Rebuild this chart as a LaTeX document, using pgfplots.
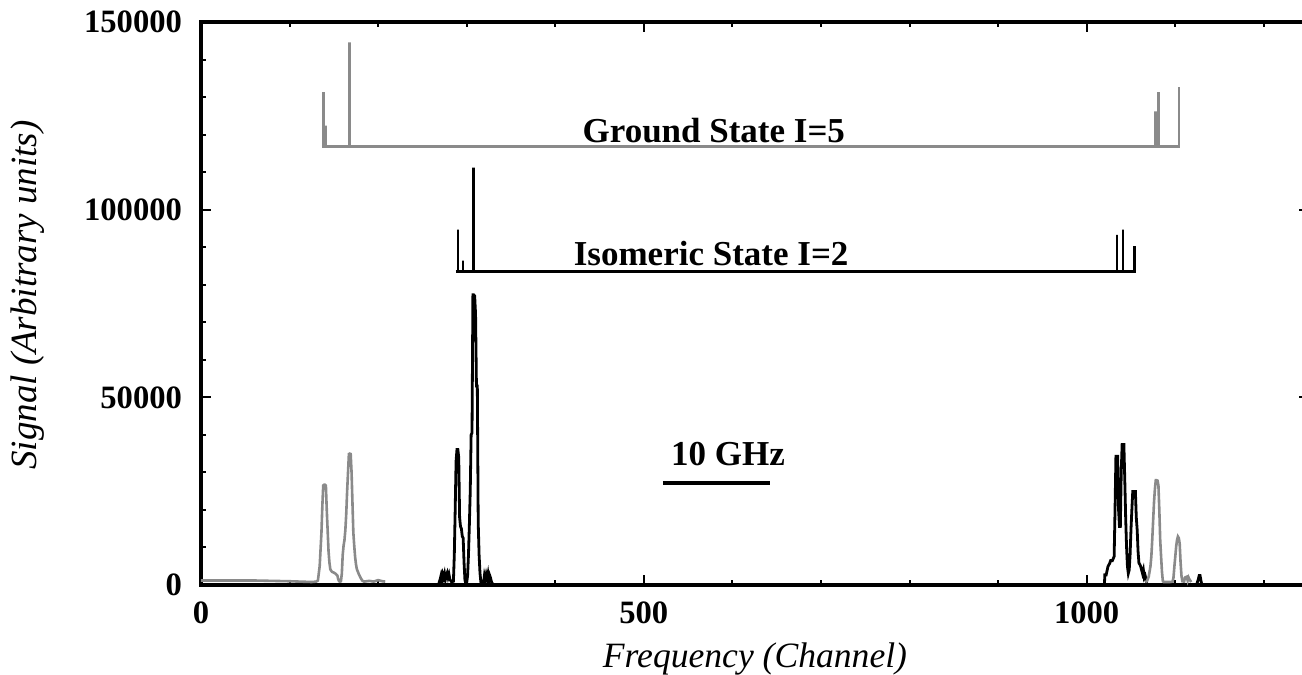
\documentclass[border=0pt]{standalone}
\usepackage{fontspec}
\setmainfont{Liberation Serif}
\usepackage{pgfplots}
\pgfplotsset{compat=1.18}
\definecolor{specgray}{RGB}{138,138,138}
\begin{document}
\begin{tikzpicture}
\path[use as bounding box] (-100.5pt,-45pt) rectangle (550.5pt,292.5pt);
\begin{axis}[
  at={(0,0)}, anchor=south west,
  scale only axis, width=554pt, height=281.5pt,
  xmin=0, xmax=1251, ymin=0, ymax=150000,
  axis line style={line width=2.3pt},
  xtick={0,500,1000}, minor xtick={100,200,300,400,600,700,800,900,1100,1200},
  ytick={0,50000,100000,150000},
  minor ytick={10000,20000,30000,40000,60000,70000,80000,90000,110000,120000,130000,140000},
  tick align=inside, major tick length=5pt, minor tick length=2.5pt,
  every tick/.style={line width=1pt, black},
  scaled y ticks=false, scaled x ticks=false,
  /pgf/number format/fixed, /pgf/number format/precision=0,
  /pgf/number format/assume math mode=true,
  /pgf/number format/1000 sep={},
  yticklabel style={font=\fontsize{16.3}{18}\selectfont\bfseries, xshift=-6pt},
  xticklabel style={font=\fontsize{16.3}{18}\selectfont\bfseries, yshift=-5pt},
  xlabel={Frequency (Channel)},
  ylabel={Signal (Arbitrary units)},
  x label style={font=\fontsize{17.8}{22}\selectfont\itshape, at={(axis description cs:0.5,-0.1465)}, anchor=base},
  y label style={font=\fontsize{18.5}{22}\selectfont\itshape, at={(axis description cs:-0.1488,0.515)}, anchor=base},
]
% black spectrum (isomeric)
\addplot[black, line width=1.4pt, sharp plot] coordinates {
(266,0)(268,0)(270,1500)(271,2500)(272,1200)(273,2800)(274,2000)(275,3000)(276,1500)(277,2500)(278,3200)(279,2000)(280,2800)(281,1500)(283,800)(285,1000)
(286,8000)(287,20000)(288,33000)(289,36100)(290,36100)(291,34000)(292,18000)(293,15600)(294,15000)(295,13000)(296,12500)(297,6000)(298,1300)(299,500)
(300,600)(301,2500)(302,8000)(303,16000)(304,25000)(305,40000)(306,40500)(307,77300)(308,77300)(309,77000)(310,72200)(311,53000)(312,53000)
(313,16500)(314,8000)(315,3200)(316,800)(317,200)(319,500)(320,2500)(321,1500)(322,2800)(323,1800)(324,3000)(325,1200)(326,2500)(327,1800)(328,800)(330,0)
};
\addplot[black, line width=1.4pt, sharp plot] coordinates {
(1018,0)(1020,0)(1020.5,2700)(1022,2700)(1024,4900)(1026,5800)(1027,6500)(1029,6500)(1031,7600)(1032,20000)(1033,34300)(1034,34300)(1035,34300)
(1036,20000)(1037,15600)(1038,15600)(1039,30000)(1040,37400)(1041,37400)(1042,37400)(1043,28100)(1044,18000)(1045,10200)(1046,5000)(1047,3100)
(1048,4000)(1049,8000)(1050,14700)(1051,20000)(1052,24900)(1053,24900)(1054,24900)(1055,24900)(1056,18000)(1057,14700)(1058,9000)(1059,5800)
(1060,5500)(1061,4900)(1062,4000)(1063,3100)(1064,4000)(1065,2000)(1066,2500)(1067,1500)(1068,0)
};
\addplot[black, line width=1.4pt, sharp plot] coordinates {
(1124,0)(1126,1500)(1127,2500)(1128,2500)(1129,1200)(1130,0)
};
% gray spectrum (ground)
\addplot[specgray, line width=1.3pt, sharp plot] coordinates {
(0,1200)(60,1200)(100,1000)(125,800)(130,900)(132,1200)(134,5000)(136,14000)(137,21000)(138,26500)(139,26700)(140,26700)(141,26500)
(142,20000)(143,14500)(144,9000)(145,6000)(146,4200)(147,3800)(148,3500)(150,3300)(152,3000)(154,2500)(155,1500)(156,1000)(157,900)
(158,1000)(159,3000)(160,8000)(161,10500)(162,12000)(163,14700)(164,19000)(165,25000)(166,30000)(167,34900)(168,35000)(169,34900)
(170,30000)(171,22000)(172,14000)(173,10500)(174,7500)(175,5500)(176,4200)(178,3000)(180,2000)(182,1200)(184,900)(190,1100)(195,900)
(200,1300)(205,1000)(208,900)
};
\addplot[specgray, line width=1.3pt, sharp plot] coordinates {
(1066,800)(1068,1000)(1070,2200)(1072,5000)(1073,7600)(1074,12000)(1075,17000)(1076,22000)(1077,25500)(1078,27900)(1079,27900)(1080,27800)
(1081,26500)(1082,20000)(1083,12000)(1084,7600)(1085,3500)(1086,1000)(1087,800)(1090,800)(1094,800)(1097,900)(1098,2000)(1099,4900)
(1100,7500)(1101,10200)(1102,12000)(1103,12900)(1104,12500)(1105,11000)(1106,6000)(1107,2500)(1108,1000)(1110,900)(1111,2000)(1113,2200)
(1114,1200)(1115,2000)(1116,1500)(1118,800)
};
% ground state stick diagram
\addplot[specgray, line width=1.3pt, sharp plot] coordinates {
(136.6,116800)(138,116800)(138,131300)(138,116800)(141,116800)(141,122400)(141,116800)(168,116800)(168,144600)(168,116800)
(1078,116800)(1078,126200)(1078,116800)(1081,116800)(1081,131300)(1081,116800)(1104,116800)(1104,132600)
};
% isomeric state stick diagram
\addplot[black, line width=1.3pt, sharp plot] coordinates {
(287.8,83500)(290,83500)(290,94650)(290,83500)(296,83500)(296,86400)(296,83500)(308,83500)(308,111200)(308,83500)
(1034,83500)(1034,93300)(1034,83500)(1041,83500)(1041,94650)(1041,83500)(1054,83500)(1054,90400)
};
% 10 GHz scale bar
\addplot[black, line width=2pt] coordinates {(521.4,27200)(642.2,27200)};
\node[font=\fontsize{17.5}{20}\selectfont\bfseries, anchor=base] at (axis cs:579,117900) {Ground State I=5};
\node[font=\fontsize{17.5}{20}\selectfont\bfseries, anchor=base] at (axis cs:576,85000) {Isomeric State I=2};
\node[font=\fontsize{17.5}{20}\selectfont\bfseries, anchor=base] at (axis cs:595,31900) {10 GHz};
\end{axis}
\end{tikzpicture}
\end{document}
